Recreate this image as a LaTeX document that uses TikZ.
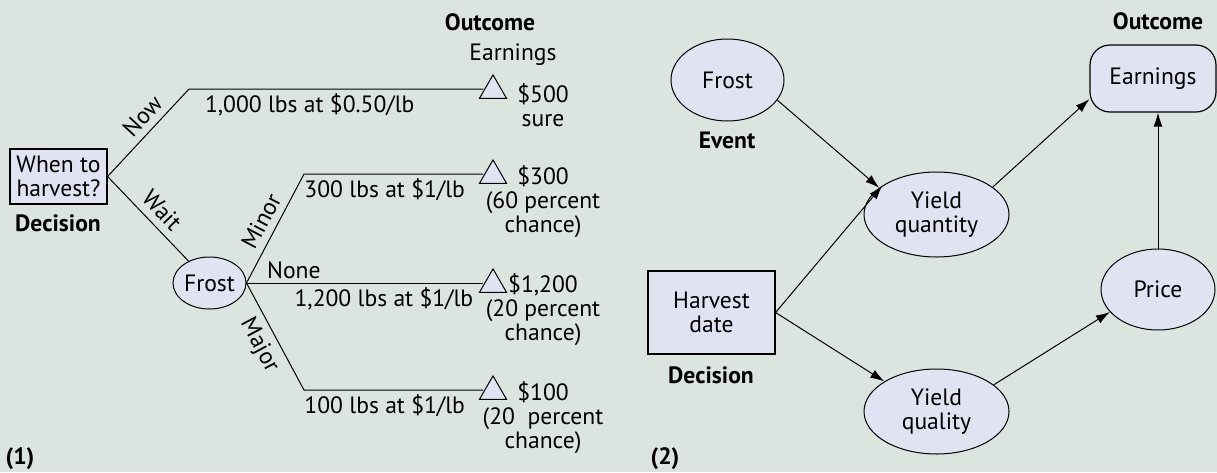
\documentclass[tikz,border=0pt]{standalone}
\usepackage{fontspec}
\setmainfont{PT Sans}
\usetikzlibrary{arrows.meta,shapes.geometric}
\definecolor{bg}{HTML}{DCE4DF}
\definecolor{nodefill}{HTML}{E0E3F2}
\newcommand{\diagfont}{\fontsize{11.8}{12}\selectfont}
\tikzset{
  box/.style={draw, fill=nodefill, line width=0.6pt, inner sep=0pt, align=center},
  oval/.style={ellipse, draw, fill=nodefill, line width=0.5pt, inner sep=0pt, align=center},
  tri/.style={regular polygon, regular polygon sides=3, draw, fill=nodefill, line width=0.5pt, minimum size=15.6pt, inner sep=0pt},
  tag/.style={font=\diagfont\bfseries},
  arr/.style={-{Latex[length=7pt,width=4.5pt]}, line width=0.5pt},
  lbl/.style={inner sep=2pt},
  slant/.style={sloped, inner sep=3.5pt},
}

\begin{document}
\begin{tikzpicture}[x=0.5pt, y=-0.5pt, font=\diagfont, line width=0.5pt]
\fill[bg] (0,0) rectangle (1217,472);
\useasboundingbox (0,0) rectangle (1217,472);
% (1) decision tree
\node[box, minimum width=48.5pt, minimum height=27.5pt] (when) at (58.5,176.5) {When to\\harvest?};
\node[tag] (dec1) at (58,223) {Decision};
\node[oval, minimum width=36.5pt, minimum height=26pt] (frost1) at (209.5,283) {Frost};
\node[tag] (out1) at (490,22) {Outcome};
\node (earn1) at (513,55) {Earnings};
\coordinate (now) at (189,89);
\coordinate (minor) at (304,174);
\coordinate (major) at (304,390);
\node[tri] (t1) at (493,90.5) {};
\node[tri] (t2) at (493,175.5) {};
\node[tri] (t3) at (493,284.5) {};
\node[tri] (t4) at (493,391.5) {};
\draw (when.east) -- node[slant, above, pos=0.57] {Now} (now)
  -- node[lbl, below, pos=0.41] {1,000 lbs at \$0.50/lb} (now -| t1.west);
\draw (when.east) -- node[slant, above, pos=0.53] {Wait} (frost1);
\draw (frost1.east) -- node[slant, above] {Minor} (minor)
  -- node[lbl, below, pos=0.45] {300 lbs at \$1/lb} (minor -| t2.west);
\draw (frost1.east) -- node[lbl, above, pos=0.2] {None}
  node[lbl, below, pos=0.58] {1,200 lbs at \$1/lb} (frost1.east -| t3.west);
\draw (frost1.east) -- node[slant, below] {Major} (major)
  -- node[lbl, below, pos=0.45] {100 lbs at \$1/lb} (major -| t4.west);
\node[align=center] (v1) at (543,105) {\$500\\sure};
\node[align=center] (v2) at (543,201.5) {\$300\\(60 percent\\chance)};
\node[align=center] (v3) at (543,310) {\$1,200\\(20 percent\\chance)};
\node[align=center] (v4) at (543,418) {\$100\\(20\ \ percent\\chance)};
\node[tag] (n1) at (20,459) {(1)};
% (2) influence diagram
\node[oval, minimum width=56.5pt, minimum height=41pt] (frost2) at (727.5,80) {Frost};
\node[tag] (event) at (727,140) {Event};
\node[box, minimum width=63.5pt, minimum height=41.5pt] (harvest) at (711.5,312.5) {Harvest\\date};
\node[tag] (dec2) at (711,375) {Decision};
\node[oval, minimum width=72.5pt, minimum height=42.5pt] (yqty) at (936.5,214.5) {Yield\\quantity};
\node[oval, minimum width=72.5pt, minimum height=42.5pt] (yqual) at (936.5,411.5) {Yield\\quality};
\node[oval, minimum width=57pt, minimum height=40.5pt] (price) at (1158,289.5) {Price};
\node[box, rounded corners=10pt, minimum width=63pt, minimum height=33.5pt] (earn2) at (1153,78.5) {Earnings};
\node[tag] (out2) at (1158,21) {Outcome};
\node[tag] (n2) at (665,459) {(2)};
\draw[arr] (frost2.-22) -- (yqty.155);
\draw[arr] (harvest.east) -- (yqty.152);
\draw[arr] (harvest.east) -- (yqual.150);
\draw[arr] (yqty.26) -- (earn2.198);
\draw[arr] (yqual.25) -- (price.205);
\draw[arr] (price.north) -- (price.north |- earn2.south);
\end{tikzpicture}
\end{document}
